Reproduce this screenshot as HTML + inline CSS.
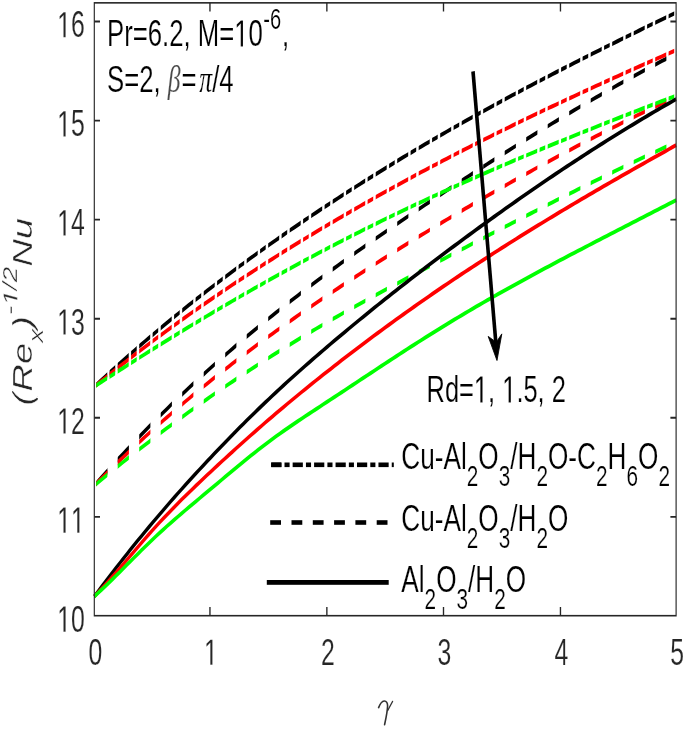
<!DOCTYPE html>
<html><head><meta charset="utf-8"><style>
html,body{margin:0;padding:0;background:#fff;overflow:hidden;width:685px;height:729px;}
svg{display:block;will-change:transform;filter:blur(0.35px);}
text{font-family:"Liberation Sans",sans-serif;fill:#262626;stroke:#fff;stroke-width:0.2px;}
.k{fill:#000;}
.h1{fill-opacity:0;stroke-opacity:0;}
</style></head><body>
<svg width="685" height="729" viewBox="0 0 685 729">
<rect width="685" height="729" fill="#fff"/>
<g transform="scale(0.715,1)">
<defs><clipPath id="cdd"><rect x="134.55" y="0" width="15.38" height="729"/><rect x="153.29" y="0" width="7.83" height="729"/><rect x="164.62" y="0" width="15.38" height="729"/><rect x="183.36" y="0" width="7.83" height="729"/><rect x="194.69" y="0" width="15.38" height="729"/><rect x="213.43" y="0" width="7.83" height="729"/><rect x="224.76" y="0" width="15.38" height="729"/><rect x="243.50" y="0" width="7.83" height="729"/><rect x="254.83" y="0" width="15.38" height="729"/><rect x="273.57" y="0" width="7.83" height="729"/><rect x="284.90" y="0" width="15.38" height="729"/><rect x="303.64" y="0" width="7.83" height="729"/><rect x="314.97" y="0" width="15.38" height="729"/><rect x="333.71" y="0" width="7.83" height="729"/><rect x="345.03" y="0" width="15.38" height="729"/><rect x="363.78" y="0" width="7.83" height="729"/><rect x="375.10" y="0" width="15.38" height="729"/><rect x="393.85" y="0" width="7.83" height="729"/><rect x="405.17" y="0" width="15.38" height="729"/><rect x="423.92" y="0" width="7.83" height="729"/><rect x="435.24" y="0" width="15.38" height="729"/><rect x="453.99" y="0" width="7.83" height="729"/><rect x="465.31" y="0" width="15.38" height="729"/><rect x="484.06" y="0" width="7.83" height="729"/><rect x="495.38" y="0" width="15.38" height="729"/><rect x="514.13" y="0" width="7.83" height="729"/><rect x="525.45" y="0" width="15.38" height="729"/><rect x="544.20" y="0" width="7.83" height="729"/><rect x="555.52" y="0" width="15.38" height="729"/><rect x="574.27" y="0" width="7.83" height="729"/><rect x="585.59" y="0" width="15.38" height="729"/><rect x="604.34" y="0" width="7.83" height="729"/><rect x="615.66" y="0" width="15.38" height="729"/><rect x="634.41" y="0" width="7.83" height="729"/><rect x="645.73" y="0" width="15.38" height="729"/><rect x="664.48" y="0" width="7.83" height="729"/><rect x="675.80" y="0" width="15.38" height="729"/><rect x="694.55" y="0" width="7.83" height="729"/><rect x="705.87" y="0" width="15.38" height="729"/><rect x="724.62" y="0" width="7.83" height="729"/><rect x="735.94" y="0" width="15.38" height="729"/><rect x="754.69" y="0" width="7.83" height="729"/><rect x="766.01" y="0" width="15.38" height="729"/><rect x="784.76" y="0" width="7.83" height="729"/><rect x="796.08" y="0" width="15.38" height="729"/><rect x="814.83" y="0" width="7.83" height="729"/><rect x="826.15" y="0" width="15.38" height="729"/><rect x="844.90" y="0" width="7.83" height="729"/><rect x="856.22" y="0" width="15.38" height="729"/><rect x="874.97" y="0" width="7.83" height="729"/><rect x="886.29" y="0" width="15.38" height="729"/><rect x="905.03" y="0" width="7.83" height="729"/><rect x="916.36" y="0" width="15.38" height="729"/><rect x="935.10" y="0" width="7.83" height="729"/><rect x="946.43" y="0" width="15.38" height="729"/></clipPath><clipPath id="cda"><rect x="134.55" y="0" width="15.66" height="729"/><rect x="164.62" y="0" width="15.66" height="729"/><rect x="194.69" y="0" width="15.66" height="729"/><rect x="224.76" y="0" width="15.66" height="729"/><rect x="254.83" y="0" width="15.66" height="729"/><rect x="284.90" y="0" width="15.66" height="729"/><rect x="314.97" y="0" width="15.66" height="729"/><rect x="345.03" y="0" width="15.66" height="729"/><rect x="375.10" y="0" width="15.66" height="729"/><rect x="405.17" y="0" width="15.66" height="729"/><rect x="435.24" y="0" width="15.66" height="729"/><rect x="465.31" y="0" width="15.66" height="729"/><rect x="495.38" y="0" width="15.66" height="729"/><rect x="525.45" y="0" width="15.66" height="729"/><rect x="555.52" y="0" width="15.66" height="729"/><rect x="585.59" y="0" width="15.66" height="729"/><rect x="615.66" y="0" width="15.66" height="729"/><rect x="645.73" y="0" width="15.66" height="729"/><rect x="675.80" y="0" width="15.66" height="729"/><rect x="705.87" y="0" width="15.66" height="729"/><rect x="735.94" y="0" width="15.66" height="729"/><rect x="766.01" y="0" width="15.66" height="729"/><rect x="796.08" y="0" width="15.66" height="729"/><rect x="826.15" y="0" width="15.66" height="729"/><rect x="856.22" y="0" width="15.66" height="729"/><rect x="886.29" y="0" width="15.66" height="729"/><rect x="916.36" y="0" width="15.66" height="729"/><rect x="946.43" y="0" width="15.66" height="729"/></clipPath></defs>
<path d="M131.89,485.65 L136.97,481.52 L142.06,477.42 L147.15,473.35 L152.23,469.31 L157.32,465.31 L162.40,461.33 L167.49,457.39 L172.57,453.47 L177.66,449.59 L182.74,445.74 L187.83,441.91 L192.92,438.12 L198.00,434.35 L203.09,430.61 L208.17,426.90 L213.26,423.22 L218.34,419.57 L223.43,415.94 L228.52,412.34 L233.60,408.77 L238.69,405.22 L243.77,401.70 L248.86,398.21 L253.94,394.74 L259.03,391.30 L264.12,387.88 L269.20,384.49 L274.29,381.12 L279.37,377.77 L284.46,374.45 L289.54,371.15 L294.63,367.87 L299.72,364.62 L304.80,361.39 L309.89,358.18 L314.97,355.00 L320.06,351.83 L325.14,348.69 L330.23,345.57 L335.31,342.47 L340.40,339.39 L345.49,336.33 L350.57,333.29 L355.66,330.26 L360.74,327.26 L365.83,324.28 L370.91,321.31 L376.00,318.37 L381.09,315.44 L386.17,312.53 L391.26,309.63 L396.34,306.76 L401.43,303.90 L406.51,301.05 L411.60,298.23 L416.69,295.42 L421.77,292.62 L426.86,289.84 L431.94,287.07 L437.03,284.32 L442.11,281.59 L447.20,278.86 L452.28,276.15 L457.37,273.46 L462.46,270.78 L467.54,268.11 L472.63,265.45 L477.71,262.80 L482.80,260.17 L487.88,257.55 L492.97,254.94 L498.06,252.34 L503.14,249.76 L508.23,247.18 L513.31,244.61 L518.40,242.06 L523.48,239.51 L528.57,236.98 L533.66,234.45 L538.74,231.93 L543.83,229.43 L548.91,226.93 L554.00,224.43 L559.08,221.95 L564.17,219.48 L569.26,217.01 L574.34,214.55 L579.43,212.10 L584.51,209.65 L589.60,207.21 L594.68,204.78 L599.77,202.35 L604.85,199.93 L609.94,197.51 L615.03,195.10 L620.11,192.70 L625.20,190.30 L630.28,187.90 L635.37,185.51 L640.45,183.13 L645.54,180.75 L650.63,178.37 L655.71,176.00 L660.80,173.64 L665.88,171.28 L670.97,168.93 L676.05,166.58 L681.14,164.24 L686.23,161.90 L691.31,159.58 L696.40,157.25 L701.48,154.94 L706.57,152.63 L711.65,150.33 L716.74,148.03 L721.83,145.74 L726.91,143.46 L732.00,141.19 L737.08,138.92 L742.17,136.66 L747.25,134.41 L752.34,132.17 L757.42,129.93 L762.51,127.70 L767.60,125.48 L772.68,123.27 L777.77,121.06 L782.85,118.87 L787.94,116.68 L793.02,114.50 L798.11,112.33 L803.20,110.17 L808.28,108.01 L813.37,105.87 L818.45,103.73 L823.54,101.61 L828.62,99.49 L833.71,97.38 L838.80,95.29 L843.88,93.20 L848.97,91.12 L854.05,89.05 L859.14,86.99 L864.22,84.95 L869.31,82.91 L874.40,80.88 L879.48,78.86 L884.57,76.86 L889.65,74.86 L894.74,72.88 L899.82,70.90 L904.91,68.94 L909.99,66.99 L915.08,65.05 L920.17,63.12 L925.25,61.20 L930.34,59.29 L935.42,57.40 L940.51,55.52 L945.59,53.65" fill="none" stroke="#000000" stroke-width="4.0" clip-path="url(#cda)"/>
<path d="M131.89,485.65 L136.97,481.97 L142.06,478.33 L147.15,474.71 L152.23,471.12 L157.32,467.56 L162.40,464.02 L167.49,460.52 L172.57,457.04 L177.66,453.58 L182.74,450.15 L187.83,446.75 L192.92,443.37 L198.00,440.02 L203.09,436.69 L208.17,433.39 L213.26,430.11 L218.34,426.86 L223.43,423.63 L228.52,420.42 L233.60,417.24 L238.69,414.08 L243.77,410.94 L248.86,407.83 L253.94,404.73 L259.03,401.66 L264.12,398.61 L269.20,395.58 L274.29,392.57 L279.37,389.58 L284.46,386.62 L289.54,383.67 L294.63,380.74 L299.72,377.83 L304.80,374.94 L309.89,372.07 L314.97,369.22 L320.06,366.38 L325.14,363.57 L330.23,360.77 L335.31,357.99 L340.40,355.22 L345.49,352.47 L350.57,349.74 L355.66,347.03 L360.74,344.33 L365.83,341.64 L370.91,338.97 L376.00,336.32 L381.09,333.68 L386.17,331.05 L391.26,328.44 L396.34,325.84 L401.43,323.26 L406.51,320.69 L411.60,318.13 L416.69,315.58 L421.77,313.05 L426.86,310.53 L431.94,308.01 L437.03,305.52 L442.11,303.03 L447.20,300.55 L452.28,298.08 L457.37,295.63 L462.46,293.18 L467.54,290.74 L472.63,288.32 L477.71,285.90 L482.80,283.49 L487.88,281.09 L492.97,278.70 L498.06,276.32 L503.14,273.95 L508.23,271.59 L513.31,269.23 L518.40,266.89 L523.48,264.55 L528.57,262.22 L533.66,259.90 L538.74,257.59 L543.83,255.29 L548.91,253.00 L554.00,250.71 L559.08,248.43 L564.17,246.16 L569.26,243.90 L574.34,241.65 L579.43,239.40 L584.51,237.16 L589.60,234.93 L594.68,232.71 L599.77,230.49 L604.85,228.28 L609.94,226.08 L615.03,223.88 L620.11,221.70 L625.20,219.51 L630.28,217.34 L635.37,215.17 L640.45,213.01 L645.54,210.86 L650.63,208.71 L655.71,206.57 L660.80,204.44 L665.88,202.31 L670.97,200.19 L676.05,198.08 L681.14,195.98 L686.23,193.88 L691.31,191.79 L696.40,189.70 L701.48,187.63 L706.57,185.56 L711.65,183.50 L716.74,181.44 L721.83,179.39 L726.91,177.35 L732.00,175.32 L737.08,173.29 L742.17,171.27 L747.25,169.26 L752.34,167.26 L757.42,165.26 L762.51,163.27 L767.60,161.29 L772.68,159.31 L777.77,157.35 L782.85,155.39 L787.94,153.43 L793.02,151.49 L798.11,149.55 L803.20,147.62 L808.28,145.70 L813.37,143.78 L818.45,141.88 L823.54,139.98 L828.62,138.08 L833.71,136.20 L838.80,134.32 L843.88,132.45 L848.97,130.59 L854.05,128.74 L859.14,126.89 L864.22,125.05 L869.31,123.22 L874.40,121.40 L879.48,119.58 L884.57,117.77 L889.65,115.97 L894.74,114.18 L899.82,112.40 L904.91,110.62 L909.99,108.85 L915.08,107.09 L920.17,105.34 L925.25,103.60 L930.34,101.86 L935.42,100.13 L940.51,98.41 L945.59,96.70" fill="none" stroke="#ff0000" stroke-width="4.0" clip-path="url(#cda)"/>
<path d="M131.89,485.65 L136.97,482.62 L142.06,479.60 L147.15,476.61 L152.23,473.62 L157.32,470.66 L162.40,467.71 L167.49,464.78 L172.57,461.86 L177.66,458.96 L182.74,456.08 L187.83,453.21 L192.92,450.36 L198.00,447.52 L203.09,444.71 L208.17,441.90 L213.26,439.11 L218.34,436.34 L223.43,433.58 L228.52,430.84 L233.60,428.11 L238.69,425.40 L243.77,422.71 L248.86,420.03 L253.94,417.36 L259.03,414.71 L264.12,412.08 L269.20,409.46 L274.29,406.85 L279.37,404.26 L284.46,401.68 L289.54,399.12 L294.63,396.58 L299.72,394.04 L304.80,391.53 L309.89,389.02 L314.97,386.53 L320.06,384.06 L325.14,381.60 L330.23,379.15 L335.31,376.72 L340.40,374.30 L345.49,371.89 L350.57,369.50 L355.66,367.13 L360.74,364.76 L365.83,362.41 L370.91,360.07 L376.00,357.75 L381.09,355.44 L386.17,353.14 L391.26,350.86 L396.34,348.59 L401.43,346.33 L406.51,344.09 L411.60,341.86 L416.69,339.64 L421.77,337.43 L426.86,335.24 L431.94,333.06 L437.03,330.89 L442.11,328.74 L447.20,326.60 L452.28,324.47 L457.37,322.35 L462.46,320.24 L467.54,318.15 L472.63,316.07 L477.71,314.00 L482.80,311.94 L487.88,309.89 L492.97,307.85 L498.06,305.82 L503.14,303.79 L508.23,301.78 L513.31,299.78 L518.40,297.78 L523.48,295.79 L528.57,293.81 L533.66,291.84 L538.74,289.87 L543.83,287.91 L548.91,285.96 L554.00,284.01 L559.08,282.07 L564.17,280.13 L569.26,278.19 L574.34,276.26 L579.43,274.34 L584.51,272.41 L589.60,270.49 L594.68,268.57 L599.77,266.66 L604.85,264.74 L609.94,262.83 L615.03,260.92 L620.11,259.01 L625.20,257.10 L630.28,255.19 L635.37,253.28 L640.45,251.37 L645.54,249.46 L650.63,247.55 L655.71,245.65 L660.80,243.74 L665.88,241.84 L670.97,239.94 L676.05,238.03 L681.14,236.14 L686.23,234.24 L691.31,232.34 L696.40,230.45 L701.48,228.55 L706.57,226.66 L711.65,224.78 L716.74,222.89 L721.83,221.01 L726.91,219.13 L732.00,217.25 L737.08,215.37 L742.17,213.50 L747.25,211.63 L752.34,209.76 L757.42,207.90 L762.51,206.04 L767.60,204.18 L772.68,202.33 L777.77,200.48 L782.85,198.64 L787.94,196.79 L793.02,194.96 L798.11,193.12 L803.20,191.29 L808.28,189.47 L813.37,187.65 L818.45,185.83 L823.54,184.02 L828.62,182.21 L833.71,180.41 L838.80,178.61 L843.88,176.82 L848.97,175.04 L854.05,173.25 L859.14,171.48 L864.22,169.71 L869.31,167.94 L874.40,166.18 L879.48,164.43 L884.57,162.68 L889.65,160.94 L894.74,159.21 L899.82,157.48 L904.91,155.76 L909.99,154.04 L915.08,152.33 L920.17,150.63 L925.25,148.93 L930.34,147.25 L935.42,145.56 L940.51,143.89 L945.59,142.22" fill="none" stroke="#00ff00" stroke-width="4.0" clip-path="url(#cda)"/>
<path d="M131.89,386.68 L136.97,383.29 L142.06,379.93 L147.15,376.59 L152.23,373.27 L157.32,369.96 L162.40,366.68 L167.49,363.42 L172.57,360.18 L177.66,356.96 L182.74,353.76 L187.83,350.58 L192.92,347.42 L198.00,344.28 L203.09,341.16 L208.17,338.05 L213.26,334.97 L218.34,331.90 L223.43,328.85 L228.52,325.82 L233.60,322.81 L238.69,319.82 L243.77,316.84 L248.86,313.88 L253.94,310.94 L259.03,308.02 L264.12,305.11 L269.20,302.22 L274.29,299.34 L279.37,296.48 L284.46,293.64 L289.54,290.82 L294.63,288.01 L299.72,285.21 L304.80,282.43 L309.89,279.67 L314.97,276.92 L320.06,274.19 L325.14,271.47 L330.23,268.76 L335.31,266.07 L340.40,263.40 L345.49,260.74 L350.57,258.09 L355.66,255.46 L360.74,252.84 L365.83,250.23 L370.91,247.63 L376.00,245.05 L381.09,242.48 L386.17,239.93 L391.26,237.39 L396.34,234.85 L401.43,232.33 L406.51,229.83 L411.60,227.33 L416.69,224.85 L421.77,222.37 L426.86,219.91 L431.94,217.46 L437.03,215.02 L442.11,212.59 L447.20,210.17 L452.28,207.76 L457.37,205.37 L462.46,202.98 L467.54,200.60 L472.63,198.23 L477.71,195.87 L482.80,193.52 L487.88,191.18 L492.97,188.85 L498.06,186.53 L503.14,184.22 L508.23,181.92 L513.31,179.62 L518.40,177.34 L523.48,175.07 L528.57,172.80 L533.66,170.55 L538.74,168.30 L543.83,166.07 L548.91,163.84 L554.00,161.62 L559.08,159.41 L564.17,157.21 L569.26,155.02 L574.34,152.84 L579.43,150.67 L584.51,148.51 L589.60,146.35 L594.68,144.21 L599.77,142.07 L604.85,139.94 L609.94,137.82 L615.03,135.71 L620.11,133.61 L625.20,131.52 L630.28,129.44 L635.37,127.36 L640.45,125.29 L645.54,123.23 L650.63,121.18 L655.71,119.14 L660.80,117.10 L665.88,115.08 L670.97,113.06 L676.05,111.05 L681.14,109.04 L686.23,107.04 L691.31,105.05 L696.40,103.07 L701.48,101.10 L706.57,99.13 L711.65,97.17 L716.74,95.21 L721.83,93.26 L726.91,91.32 L732.00,89.39 L737.08,87.46 L742.17,85.54 L747.25,83.62 L752.34,81.71 L757.42,79.81 L762.51,77.91 L767.60,76.02 L772.68,74.13 L777.77,72.25 L782.85,70.37 L787.94,68.50 L793.02,66.63 L798.11,64.77 L803.20,62.92 L808.28,61.07 L813.37,59.22 L818.45,57.38 L823.54,55.55 L828.62,53.71 L833.71,51.89 L838.80,50.06 L843.88,48.24 L848.97,46.43 L854.05,44.62 L859.14,42.81 L864.22,41.01 L869.31,39.21 L874.40,37.41 L879.48,35.62 L884.57,33.83 L889.65,32.04 L894.74,30.26 L899.82,28.48 L904.91,26.70 L909.99,24.93 L915.08,23.15 L920.17,21.38 L925.25,19.62 L930.34,17.85 L935.42,16.09 L940.51,14.33 L945.59,12.57" fill="none" stroke="#000000" stroke-width="4.0" clip-path="url(#cdd)"/>
<path d="M131.89,386.68 L136.97,383.72 L142.06,380.78 L147.15,377.86 L152.23,374.95 L157.32,372.06 L162.40,369.18 L167.49,366.32 L172.57,363.48 L177.66,360.65 L182.74,357.84 L187.83,355.04 L192.92,352.26 L198.00,349.49 L203.09,346.74 L208.17,344.00 L213.26,341.27 L218.34,338.56 L223.43,335.87 L228.52,333.19 L233.60,330.52 L238.69,327.87 L243.77,325.23 L248.86,322.61 L253.94,320.00 L259.03,317.40 L264.12,314.81 L269.20,312.24 L274.29,309.69 L279.37,307.14 L284.46,304.61 L289.54,302.09 L294.63,299.59 L299.72,297.09 L304.80,294.61 L309.89,292.14 L314.97,289.69 L320.06,287.24 L325.14,284.81 L330.23,282.39 L335.31,279.98 L340.40,277.58 L345.49,275.20 L350.57,272.82 L355.66,270.46 L360.74,268.11 L365.83,265.76 L370.91,263.43 L376.00,261.11 L381.09,258.81 L386.17,256.51 L391.26,254.22 L396.34,251.94 L401.43,249.67 L406.51,247.41 L411.60,245.17 L416.69,242.93 L421.77,240.70 L426.86,238.48 L431.94,236.27 L437.03,234.07 L442.11,231.88 L447.20,229.70 L452.28,227.52 L457.37,225.36 L462.46,223.20 L467.54,221.05 L472.63,218.92 L477.71,216.79 L482.80,214.66 L487.88,212.55 L492.97,210.45 L498.06,208.35 L503.14,206.26 L508.23,204.18 L513.31,202.11 L518.40,200.04 L523.48,197.99 L528.57,195.94 L533.66,193.90 L538.74,191.87 L543.83,189.85 L548.91,187.83 L554.00,185.83 L559.08,183.83 L564.17,181.84 L569.26,179.85 L574.34,177.88 L579.43,175.91 L584.51,173.95 L589.60,171.99 L594.68,170.05 L599.77,168.11 L604.85,166.18 L609.94,164.26 L615.03,162.34 L620.11,160.43 L625.20,158.53 L630.28,156.64 L635.37,154.75 L640.45,152.87 L645.54,151.00 L650.63,149.14 L655.71,147.28 L660.80,145.43 L665.88,143.58 L670.97,141.75 L676.05,139.91 L681.14,138.09 L686.23,136.27 L691.31,134.46 L696.40,132.65 L701.48,130.85 L706.57,129.06 L711.65,127.27 L716.74,125.49 L721.83,123.71 L726.91,121.94 L732.00,120.18 L737.08,118.42 L742.17,116.67 L747.25,114.92 L752.34,113.18 L757.42,111.44 L762.51,109.71 L767.60,107.98 L772.68,106.26 L777.77,104.54 L782.85,102.83 L787.94,101.13 L793.02,99.42 L798.11,97.73 L803.20,96.03 L808.28,94.35 L813.37,92.66 L818.45,90.98 L823.54,89.31 L828.62,87.64 L833.71,85.97 L838.80,84.31 L843.88,82.65 L848.97,80.99 L854.05,79.34 L859.14,77.69 L864.22,76.05 L869.31,74.41 L874.40,72.77 L879.48,71.14 L884.57,69.51 L889.65,67.88 L894.74,66.26 L899.82,64.64 L904.91,63.02 L909.99,61.41 L915.08,59.80 L920.17,58.19 L925.25,56.58 L930.34,54.98 L935.42,53.38 L940.51,51.78 L945.59,50.18" fill="none" stroke="#ff0000" stroke-width="4.0" clip-path="url(#cdd)"/>
<path d="M131.89,386.68 L136.97,384.30 L142.06,381.93 L147.15,379.56 L152.23,377.20 L157.32,374.85 L162.40,372.50 L167.49,370.16 L172.57,367.82 L177.66,365.49 L182.74,363.17 L187.83,360.86 L192.92,358.55 L198.00,356.25 L203.09,353.95 L208.17,351.67 L213.26,349.38 L218.34,347.11 L223.43,344.84 L228.52,342.58 L233.60,340.33 L238.69,338.08 L243.77,335.84 L248.86,333.61 L253.94,331.38 L259.03,329.16 L264.12,326.95 L269.20,324.75 L274.29,322.55 L279.37,320.36 L284.46,318.18 L289.54,316.00 L294.63,313.84 L299.72,311.68 L304.80,309.52 L309.89,307.38 L314.97,305.24 L320.06,303.11 L325.14,300.99 L330.23,298.88 L335.31,296.77 L340.40,294.67 L345.49,292.58 L350.57,290.50 L355.66,288.42 L360.74,286.35 L365.83,284.29 L370.91,282.24 L376.00,280.20 L381.09,278.16 L386.17,276.13 L391.26,274.11 L396.34,272.10 L401.43,270.10 L406.51,268.10 L411.60,266.12 L416.69,264.14 L421.77,262.17 L426.86,260.21 L431.94,258.25 L437.03,256.31 L442.11,254.37 L447.20,252.45 L452.28,250.53 L457.37,248.62 L462.46,246.71 L467.54,244.82 L472.63,242.94 L477.71,241.06 L482.80,239.19 L487.88,237.33 L492.97,235.48 L498.06,233.64 L503.14,231.80 L508.23,229.98 L513.31,228.16 L518.40,226.35 L523.48,224.55 L528.57,222.75 L533.66,220.96 L538.74,219.18 L543.83,217.41 L548.91,215.65 L554.00,213.89 L559.08,212.14 L564.17,210.40 L569.26,208.67 L574.34,206.94 L579.43,205.22 L584.51,203.50 L589.60,201.80 L594.68,200.10 L599.77,198.41 L604.85,196.72 L609.94,195.04 L615.03,193.37 L620.11,191.71 L625.20,190.05 L630.28,188.40 L635.37,186.75 L640.45,185.11 L645.54,183.48 L650.63,181.86 L655.71,180.24 L660.80,178.62 L665.88,177.01 L670.97,175.41 L676.05,173.82 L681.14,172.23 L686.23,170.64 L691.31,169.06 L696.40,167.49 L701.48,165.92 L706.57,164.36 L711.65,162.80 L716.74,161.25 L721.83,159.71 L726.91,158.17 L732.00,156.63 L737.08,155.10 L742.17,153.57 L747.25,152.05 L752.34,150.53 L757.42,149.02 L762.51,147.51 L767.60,146.01 L772.68,144.51 L777.77,143.02 L782.85,141.53 L787.94,140.05 L793.02,138.56 L798.11,137.09 L803.20,135.61 L808.28,134.15 L813.37,132.68 L818.45,131.22 L823.54,129.76 L828.62,128.31 L833.71,126.86 L838.80,125.41 L843.88,123.97 L848.97,122.53 L854.05,121.09 L859.14,119.66 L864.22,118.23 L869.31,116.80 L874.40,115.38 L879.48,113.95 L884.57,112.54 L889.65,111.12 L894.74,109.71 L899.82,108.30 L904.91,106.89 L909.99,105.48 L915.08,104.08 L920.17,102.68 L925.25,101.28 L930.34,99.88 L935.42,98.49 L940.51,97.10 L945.59,95.71" fill="none" stroke="#00ff00" stroke-width="4.0" clip-path="url(#cdd)"/>
<path d="M131.89,596.50 L136.97,591.62 L142.06,586.78 L147.15,581.97 L152.23,577.21 L157.32,572.47 L162.40,567.78 L167.49,563.12 L172.57,558.49 L177.66,553.90 L182.74,549.35 L187.83,544.83 L192.92,540.35 L198.00,535.90 L203.09,531.48 L208.17,527.11 L213.26,522.76 L218.34,518.45 L223.43,514.18 L228.52,509.94 L233.60,505.73 L238.69,501.56 L243.77,497.41 L248.86,493.30 L253.94,489.22 L259.03,485.16 L264.12,481.14 L269.20,477.14 L274.29,473.17 L279.37,469.22 L284.46,465.30 L289.54,461.41 L294.63,457.54 L299.72,453.70 L304.80,449.88 L309.89,446.08 L314.97,442.31 L320.06,438.56 L325.14,434.84 L330.23,431.14 L335.31,427.47 L340.40,423.82 L345.49,420.20 L350.57,416.61 L355.66,413.04 L360.74,409.50 L365.83,405.99 L370.91,402.51 L376.00,399.05 L381.09,395.62 L386.17,392.22 L391.26,388.85 L396.34,385.50 L401.43,382.17 L406.51,378.87 L411.60,375.60 L416.69,372.34 L421.77,369.11 L426.86,365.89 L431.94,362.70 L437.03,359.52 L442.11,356.37 L447.20,353.23 L452.28,350.10 L457.37,346.99 L462.46,343.90 L467.54,340.82 L472.63,337.75 L477.71,334.70 L482.80,331.66 L487.88,328.63 L492.97,325.62 L498.06,322.62 L503.14,319.63 L508.23,316.65 L513.31,313.69 L518.40,310.74 L523.48,307.80 L528.57,304.88 L533.66,301.96 L538.74,299.06 L543.83,296.17 L548.91,293.29 L554.00,290.42 L559.08,287.57 L564.17,284.72 L569.26,281.88 L574.34,279.06 L579.43,276.24 L584.51,273.43 L589.60,270.64 L594.68,267.85 L599.77,265.08 L604.85,262.31 L609.94,259.55 L615.03,256.80 L620.11,254.06 L625.20,251.33 L630.28,248.60 L635.37,245.89 L640.45,243.18 L645.54,240.49 L650.63,237.80 L655.71,235.12 L660.80,232.45 L665.88,229.79 L670.97,227.13 L676.05,224.49 L681.14,221.86 L686.23,219.23 L691.31,216.62 L696.40,214.01 L701.48,211.42 L706.57,208.83 L711.65,206.25 L716.74,203.69 L721.83,201.13 L726.91,198.58 L732.00,196.04 L737.08,193.52 L742.17,191.00 L747.25,188.49 L752.34,185.99 L757.42,183.50 L762.51,181.03 L767.60,178.56 L772.68,176.10 L777.77,173.66 L782.85,171.22 L787.94,168.80 L793.02,166.38 L798.11,163.98 L803.20,161.58 L808.28,159.20 L813.37,156.83 L818.45,154.47 L823.54,152.12 L828.62,149.78 L833.71,147.45 L838.80,145.14 L843.88,142.83 L848.97,140.54 L854.05,138.25 L859.14,135.98 L864.22,133.72 L869.31,131.47 L874.40,129.24 L879.48,127.01 L884.57,124.80 L889.65,122.60 L894.74,120.41 L899.82,118.23 L904.91,116.06 L909.99,113.91 L915.08,111.77 L920.17,109.64 L925.25,107.52 L930.34,105.41 L935.42,103.32 L940.51,101.24 L945.59,99.17" fill="none" stroke="#000000" stroke-width="4.0"/>
<path d="M131.89,596.50 L136.97,592.70 L142.06,588.81 L147.15,584.83 L152.23,580.78 L157.32,576.66 L162.40,572.49 L167.49,568.28 L172.57,564.03 L177.66,559.77 L182.74,555.49 L187.83,551.22 L192.92,546.96 L198.00,542.73 L203.09,538.53 L208.17,534.38 L213.26,530.28 L218.34,526.26 L223.43,522.29 L228.52,518.39 L233.60,514.55 L238.69,510.77 L243.77,507.03 L248.86,503.35 L253.94,499.70 L259.03,496.11 L264.12,492.54 L269.20,489.02 L274.29,485.52 L279.37,482.06 L284.46,478.62 L289.54,475.20 L294.63,471.79 L299.72,468.41 L304.80,465.03 L309.89,461.68 L314.97,458.33 L320.06,455.01 L325.14,451.70 L330.23,448.40 L335.31,445.13 L340.40,441.87 L345.49,438.62 L350.57,435.40 L355.66,432.19 L360.74,429.00 L365.83,425.83 L370.91,422.67 L376.00,419.54 L381.09,416.42 L386.17,413.33 L391.26,410.25 L396.34,407.19 L401.43,404.14 L406.51,401.12 L411.60,398.11 L416.69,395.12 L421.77,392.14 L426.86,389.18 L431.94,386.24 L437.03,383.31 L442.11,380.39 L447.20,377.49 L452.28,374.61 L457.37,371.73 L462.46,368.88 L467.54,366.03 L472.63,363.20 L477.71,360.37 L482.80,357.57 L487.88,354.77 L492.97,351.99 L498.06,349.22 L503.14,346.47 L508.23,343.72 L513.31,340.99 L518.40,338.27 L523.48,335.56 L528.57,332.87 L533.66,330.19 L538.74,327.52 L543.83,324.86 L548.91,322.22 L554.00,319.58 L559.08,316.96 L564.17,314.35 L569.26,311.76 L574.34,309.17 L579.43,306.60 L584.51,304.04 L589.60,301.48 L594.68,298.95 L599.77,296.42 L604.85,293.90 L609.94,291.40 L615.03,288.90 L620.11,286.42 L625.20,283.95 L630.28,281.49 L635.37,279.04 L640.45,276.60 L645.54,274.18 L650.63,271.76 L655.71,269.35 L660.80,266.96 L665.88,264.57 L670.97,262.20 L676.05,259.83 L681.14,257.47 L686.23,255.13 L691.31,252.79 L696.40,250.46 L701.48,248.14 L706.57,245.83 L711.65,243.53 L716.74,241.24 L721.83,238.96 L726.91,236.68 L732.00,234.42 L737.08,232.16 L742.17,229.91 L747.25,227.67 L752.34,225.44 L757.42,223.21 L762.51,220.99 L767.60,218.78 L772.68,216.58 L777.77,214.38 L782.85,212.20 L787.94,210.01 L793.02,207.84 L798.11,205.67 L803.20,203.51 L808.28,201.36 L813.37,199.21 L818.45,197.07 L823.54,194.93 L828.62,192.80 L833.71,190.68 L838.80,188.56 L843.88,186.45 L848.97,184.34 L854.05,182.24 L859.14,180.15 L864.22,178.05 L869.31,175.97 L874.40,173.89 L879.48,171.81 L884.57,169.74 L889.65,167.67 L894.74,165.61 L899.82,163.55 L904.91,161.50 L909.99,159.45 L915.08,157.40 L920.17,155.36 L925.25,153.32 L930.34,151.28 L935.42,149.25 L940.51,147.22 L945.59,145.19" fill="none" stroke="#ff0000" stroke-width="4.0"/>
<path d="M131.89,596.50 L136.97,593.17 L142.06,589.78 L147.15,586.32 L152.23,582.81 L157.32,579.25 L162.40,575.66 L167.49,572.03 L172.57,568.39 L177.66,564.73 L182.74,561.08 L187.83,557.43 L192.92,553.79 L198.00,550.18 L203.09,546.61 L208.17,543.07 L213.26,539.59 L218.34,536.16 L223.43,532.79 L228.52,529.47 L233.60,526.19 L238.69,522.96 L243.77,519.76 L248.86,516.60 L253.94,513.47 L259.03,510.37 L264.12,507.29 L269.20,504.22 L274.29,501.17 L279.37,498.13 L284.46,495.09 L289.54,492.05 L294.63,489.01 L299.72,485.97 L304.80,482.92 L309.89,479.87 L314.97,476.82 L320.06,473.78 L325.14,470.75 L330.23,467.73 L335.31,464.73 L340.40,461.74 L345.49,458.78 L350.57,455.85 L355.66,452.95 L360.74,450.08 L365.83,447.25 L370.91,444.45 L376.00,441.71 L381.09,439.00 L386.17,436.35 L391.26,433.73 L396.34,431.15 L401.43,428.60 L406.51,426.09 L411.60,423.60 L416.69,421.14 L421.77,418.70 L426.86,416.27 L431.94,413.86 L437.03,411.46 L442.11,409.07 L447.20,406.69 L452.28,404.31 L457.37,401.92 L462.46,399.53 L467.54,397.14 L472.63,394.74 L477.71,392.34 L482.80,389.94 L487.88,387.53 L492.97,385.13 L498.06,382.72 L503.14,380.31 L508.23,377.91 L513.31,375.50 L518.40,373.10 L523.48,370.70 L528.57,368.30 L533.66,365.91 L538.74,363.51 L543.83,361.13 L548.91,358.75 L554.00,356.37 L559.08,354.00 L564.17,351.64 L569.26,349.29 L574.34,346.94 L579.43,344.61 L584.51,342.28 L589.60,339.96 L594.68,337.66 L599.77,335.36 L604.85,333.08 L609.94,330.81 L615.03,328.55 L620.11,326.31 L625.20,324.08 L630.28,321.86 L635.37,319.66 L640.45,317.47 L645.54,315.29 L650.63,313.13 L655.71,310.98 L660.80,308.84 L665.88,306.72 L670.97,304.60 L676.05,302.50 L681.14,300.41 L686.23,298.33 L691.31,296.26 L696.40,294.20 L701.48,292.15 L706.57,290.11 L711.65,288.08 L716.74,286.06 L721.83,284.04 L726.91,282.04 L732.00,280.05 L737.08,278.06 L742.17,276.08 L747.25,274.11 L752.34,272.14 L757.42,270.19 L762.51,268.23 L767.60,266.29 L772.68,264.35 L777.77,262.42 L782.85,260.49 L787.94,258.57 L793.02,256.65 L798.11,254.74 L803.20,252.84 L808.28,250.93 L813.37,249.03 L818.45,247.14 L823.54,245.25 L828.62,243.36 L833.71,241.47 L838.80,239.59 L843.88,237.71 L848.97,235.83 L854.05,233.95 L859.14,232.07 L864.22,230.20 L869.31,228.32 L874.40,226.45 L879.48,224.58 L884.57,222.70 L889.65,220.83 L894.74,218.95 L899.82,217.08 L904.91,215.20 L909.99,213.33 L915.08,211.45 L920.17,209.57 L925.25,207.68 L930.34,205.80 L935.42,203.91 L940.51,202.02 L945.59,200.12" fill="none" stroke="#00ff00" stroke-width="4.0"/>
<path d="M131.89,516.84h7.97M945.59,516.84h-7.97M131.89,417.78h7.97M945.59,417.78h-7.97M131.89,318.72h7.97M945.59,318.72h-7.97M131.89,219.66h7.97M945.59,219.66h-7.97M131.89,120.60h7.97M945.59,120.60h-7.97M131.89,21.54h7.97M945.59,21.54h-7.97M293.64,615.70v-8.6M293.64,2.85v8.6M457.15,615.70v-8.6M457.15,2.85v8.6M620.28,615.70v-8.6M620.28,2.85v8.6M783.86,615.70v-8.6M783.86,2.85v8.6" stroke="#262626" stroke-width="1.9" fill="none"/>
<rect x="131.89" y="2.85" width="813.71" height="612.85" fill="none" stroke="#262626" stroke-width="1.6"/>
<text transform="translate(118.60,631.70) scale(0.95,1)" font-size="36.5" text-anchor="end"><tspan class="h1">1</tspan>0</text><g transform="translate(118.60,631.70) scale(0.95,1)" fill="#262626" stroke="#fff"><path d="M515,0L515,1237L197,1010L197,1180L530,1409L696,1409L696,0Z" transform="translate(-40.616,0.000) scale(0.017822,-0.017822)" stroke-width="11.22"/></g>
<text transform="translate(118.60,532.64) scale(0.95,1)" font-size="36.5" text-anchor="end"><tspan class="h1">1</tspan><tspan class="h1">1</tspan></text><g transform="translate(118.60,532.64) scale(0.95,1)" fill="#262626" stroke="#fff"><path d="M515,0L515,1237L197,1010L197,1180L530,1409L696,1409L696,0Z" transform="translate(-40.616,0.000) scale(0.017822,-0.017822)" stroke-width="11.22"/><path d="M515,0L515,1237L197,1010L197,1180L530,1409L696,1409L696,0Z" transform="translate(-20.308,0.000) scale(0.017822,-0.017822)" stroke-width="11.22"/></g>
<text transform="translate(118.60,433.58) scale(0.95,1)" font-size="36.5" text-anchor="end"><tspan class="h1">1</tspan>2</text><g transform="translate(118.60,433.58) scale(0.95,1)" fill="#262626" stroke="#fff"><path d="M515,0L515,1237L197,1010L197,1180L530,1409L696,1409L696,0Z" transform="translate(-40.616,0.000) scale(0.017822,-0.017822)" stroke-width="11.22"/></g>
<text transform="translate(118.60,334.52) scale(0.95,1)" font-size="36.5" text-anchor="end"><tspan class="h1">1</tspan>3</text><g transform="translate(118.60,334.52) scale(0.95,1)" fill="#262626" stroke="#fff"><path d="M515,0L515,1237L197,1010L197,1180L530,1409L696,1409L696,0Z" transform="translate(-40.616,0.000) scale(0.017822,-0.017822)" stroke-width="11.22"/></g>
<text transform="translate(118.60,235.46) scale(0.95,1)" font-size="36.5" text-anchor="end"><tspan class="h1">1</tspan>4</text><g transform="translate(118.60,235.46) scale(0.95,1)" fill="#262626" stroke="#fff"><path d="M515,0L515,1237L197,1010L197,1180L530,1409L696,1409L696,0Z" transform="translate(-40.616,0.000) scale(0.017822,-0.017822)" stroke-width="11.22"/></g>
<text transform="translate(118.60,136.40) scale(0.95,1)" font-size="36.5" text-anchor="end"><tspan class="h1">1</tspan>5</text><g transform="translate(118.60,136.40) scale(0.95,1)" fill="#262626" stroke="#fff"><path d="M515,0L515,1237L197,1010L197,1180L530,1409L696,1409L696,0Z" transform="translate(-40.616,0.000) scale(0.017822,-0.017822)" stroke-width="11.22"/></g>
<text transform="translate(118.60,37.34) scale(0.95,1)" font-size="36.5" text-anchor="end"><tspan class="h1">1</tspan>6</text><g transform="translate(118.60,37.34) scale(0.95,1)" fill="#262626" stroke="#fff"><path d="M515,0L515,1237L197,1010L197,1180L530,1409L696,1409L696,0Z" transform="translate(-40.616,0.000) scale(0.017822,-0.017822)" stroke-width="11.22"/></g>
<text transform="translate(133.29,664.8) scale(0.95,1)" font-size="36.5" text-anchor="middle">0</text>
<text transform="translate(295.03,664.8) scale(0.95,1)" font-size="36.5" text-anchor="middle"><tspan class="h1">1</tspan></text><g transform="translate(295.03,664.8) scale(0.95,1)" fill="#262626" stroke="#fff"><path d="M515,0L515,1237L197,1010L197,1180L530,1409L696,1409L696,0Z" transform="translate(-10.154,0.000) scale(0.017822,-0.017822)" stroke-width="11.22"/></g>
<text transform="translate(458.55,664.8) scale(0.95,1)" font-size="36.5" text-anchor="middle">2</text>
<text transform="translate(621.68,664.8) scale(0.95,1)" font-size="36.5" text-anchor="middle">3</text>
<text transform="translate(785.26,664.8) scale(0.95,1)" font-size="36.5" text-anchor="middle">4</text>
<text transform="translate(946.99,664.8) scale(0.95,1)" font-size="36.5" text-anchor="middle">5</text>
<text class="k" transform="translate(149.65,46.4) scale(0.952,1)" font-size="37.8">Pr=6.2, M=<tspan class="h1">1</tspan>0<tspan font-size="29.5" dx="0.5" dy="-17.5">-6</tspan><tspan dx="1.5" dy="17.5">,</tspan></text><g transform="translate(149.65,46.4) scale(0.952,1)" fill="#000" stroke="#fff"><path d="M515,0L515,1237L197,1010L197,1180L530,1409L696,1409L696,0Z" transform="translate(186.962,0.000) scale(0.018457,-0.018457)" stroke-width="10.84"/></g>
<text class="k" transform="translate(149.65,91.8) scale(0.952,1)" font-size="37.8">S=2, <tspan font-family="Liberation Serif" font-style="italic" style="fill:#4a4a4a">β</tspan><tspan dx="1.4">=</tspan><tspan font-family="Liberation Serif" font-style="italic" dx="4">π</tspan>/4</text>
<text class="k" transform="translate(596.50,402.4) scale(0.942,1)" font-size="37.8">Rd=<tspan class="h1">1</tspan>, <tspan class="h1">1</tspan>.5, 2</text><g transform="translate(596.50,402.4) scale(0.942,1)" fill="#000" stroke="#fff"><path d="M515,0L515,1237L197,1010L197,1180L530,1409L696,1409L696,0Z" transform="translate(70.396,0.000) scale(0.018457,-0.018457)" stroke-width="10.84"/><path d="M515,0L515,1237L197,1010L197,1180L530,1409L696,1409L696,0Z" transform="translate(112.422,0.000) scale(0.018457,-0.018457)" stroke-width="10.84"/></g>
<path d="M661.54,71.4 L693.99,347.0" stroke="#000" stroke-width="5.03" fill="none"/>
<path d="M695.10,360.50 L682.80,336.40 L691.75,341.00 L695.38,340.80 L701.82,333.90Z" fill="#000" stroke="#000" stroke-width="1" stroke-linejoin="round"/>
<rect x="379.30" y="462.5" width="14.27" height="4.6" fill="#000"/>
<g fill="#000"><rect x="379.30" y="462.5" width="14.27" height="4.6"/><rect x="397.90" y="462.5" width="7.13" height="4.6"/><rect x="409.30" y="462.5" width="14.27" height="4.6"/><rect x="427.90" y="462.5" width="7.13" height="4.6"/><rect x="439.30" y="462.5" width="14.27" height="4.6"/><rect x="457.90" y="462.5" width="7.13" height="4.6"/><rect x="469.30" y="462.5" width="14.27" height="4.6"/><rect x="487.90" y="462.5" width="7.13" height="4.6"/><rect x="499.30" y="462.5" width="14.27" height="4.6"/><rect x="517.90" y="462.5" width="7.13" height="4.6"/><rect x="529.30" y="462.5" width="14.27" height="4.6"/><rect x="547.90" y="462.5" width="2.87" height="4.6"/></g>
<g fill="#000"><rect x="377.90" y="520.2" width="15.10" height="4.6"/><rect x="407.69" y="520.2" width="15.10" height="4.6"/><rect x="437.48" y="520.2" width="15.10" height="4.6"/><rect x="467.27" y="520.2" width="15.10" height="4.6"/><rect x="497.06" y="520.2" width="15.10" height="4.6"/><rect x="526.85" y="520.2" width="15.10" height="4.6"/></g>
<rect x="373.15" y="580" width="170.49" height="4.8" fill="#000"/>
<text class="k" transform="translate(561.26,469.0) scale(0.969,1)" font-size="37.8">Cu-Al<tspan font-size="30" dy="17">2</tspan><tspan dy="-17">O</tspan><tspan font-size="30" dy="17">3</tspan><tspan dy="-17">/H</tspan><tspan font-size="30" dy="17">2</tspan><tspan dy="-17">O-C</tspan><tspan font-size="30" dy="17">2</tspan><tspan dy="-17">H</tspan><tspan font-size="30" dy="17">6</tspan><tspan dy="-17">O</tspan><tspan font-size="30" dy="17">2</tspan></text>
<text class="k" transform="translate(561.26,530.8) scale(0.969,1)" font-size="37.8">Cu-Al<tspan font-size="30" dy="17">2</tspan><tspan dy="-17">O</tspan><tspan font-size="30" dy="17">3</tspan><tspan dy="-17">/H</tspan><tspan font-size="30" dy="17">2</tspan><tspan dy="-17">O</tspan></text>
<text class="k" transform="translate(561.26,591.7) scale(0.969,1)" font-size="37.8">Al<tspan font-size="30" dy="17">2</tspan><tspan dy="-17">O</tspan><tspan font-size="30" dy="17">3</tspan><tspan dy="-17">/H</tspan><tspan font-size="30" dy="17">2</tspan><tspan dy="-17">O</tspan></text>
<text transform="translate(44.76,405.5) rotate(-90)" font-size="38.3" font-style="italic" style="stroke-width:0.55px">(<tspan dx="1">Re</tspan><tspan font-size="28" dy="15.5">x</tspan><tspan dy="-15.5">)</tspan><tspan font-size="28" dy="-20.5" dx="1">-<tspan class="h1">1</tspan>/2</tspan><tspan dy="20.5">Nu</tspan></text><g transform="translate(44.76,405.5) rotate(-90)" fill="#262626" stroke="#fff"><path d="M412.3,0L650,1223L289,1000L324,1180L701,1409L867,1409L593.3,0Z" transform="translate(99.802,-20.500) scale(0.013672,-0.013672)" stroke-width="40.23"/></g>
</g>
<g fill="none" stroke="#333" stroke-linecap="round">
<path d="M378.6,707.6 C380,704 381.5,701.2 384.2,701 C386.5,700.9 387.6,703 387.6,706 C387.4,712 385.8,719 384.6,724.6" stroke-width="1.6"/>
<path d="M392.6,701.4 C391,704.5 389.5,707 387.8,710.5" stroke-width="1.2"/>
</g>
</svg>
</body></html>
